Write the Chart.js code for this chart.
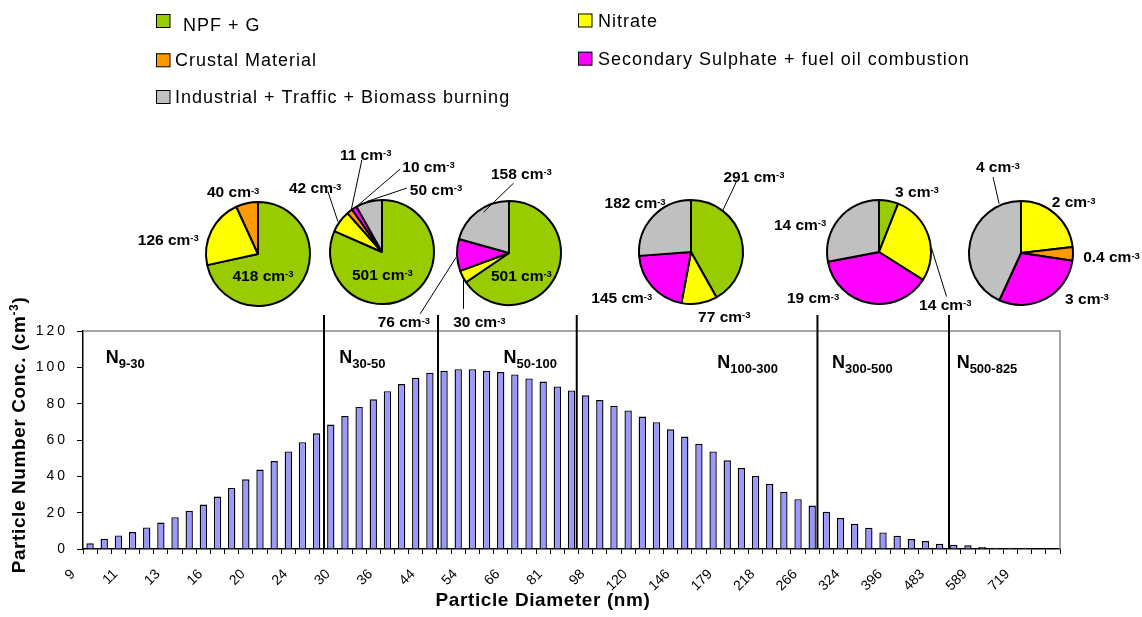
<!DOCTYPE html>
<html>
<head>
<meta charset="utf-8">
<script src="https://cdn.jsdelivr.net/npm/chart.js@4.4.1/dist/chart.umd.min.js"></script>
<style>
  html, body { margin: 0; padding: 0; background: #fff; overflow: hidden; }
  #wrap { position: relative; width: 1142px; height: 617px; }
  #wrap canvas { position: absolute; }
</style>
</head>
<body>
<div id="wrap"><canvas id="bars" width="1142" height="617" style="left:0;top:0"></canvas></div>
<script>
const FONT = "'Liberation Sans', Arial, Helvetica, sans-serif";

// size distribution: 69 bins, every third one carries a tick label
const diameterTicks = [9, 11, 13, 16, 20, 24, 30, 36, 44, 54, 66, 81, 98, 120, 146, 179, 218, 266, 324, 396, 483, 589, 719];
const concValues = [
  3.1, 5.7, 7.5, 9.3, 11.9, 14.6, 17.5, 21.0, 24.5, 28.9,
  33.6, 38.4, 43.7, 48.4, 53.7, 58.8, 63.7, 68.5, 73.2, 78.2,
  82.4, 86.9, 90.8, 94.2, 97.0, 98.1, 99.0, 99.0, 98.1, 97.4,
  96.1, 93.9, 92.2, 89.5, 87.3, 84.6, 82.0, 78.9, 76.3, 72.9,
  69.8, 65.9, 61.9, 57.9, 53.7, 48.8, 44.6, 40.2, 35.8, 31.4,
  27.4, 23.9, 20.5, 17.0, 13.9, 11.7, 9.1, 7.3, 5.5, 4.4,
  2.9, 2.4, 2.0, 1.1, 0.7, 0.7, 0.7, 0.4, 0.4
];
const yTicks = [0, 20, 40, 60, 80, 100, 120];

// size ranges
const rangeNames = ['9-30', '30-50', '50-100', '100-300', '300-500', '500-825'];

// source contributions in each size range (cm-3)
const sourceNames = ['NPF + G', 'Nitrate', 'Crustal Material', 'Secondary Sulphate + fuel oil combustion', 'Industrial + Traffic + Biomass burning'];
const npfG       = [418, 501, 501, 291, 3, 0];
const nitrate    = [126, 42, 30, 77, 14, 2.2];
const crustal    = [40, 11, 0, 0, 0, 0.4];
const sulphate   = [0, 10, 76, 145, 19, 2.8];
const industrial = [0, 50, 158, 182, 14, 4.1];
const sourceColors = ['#99CC00', '#FFFF00', '#FF9900', '#FF00FF', '#C0C0C0'];

// ---- layout ----
const rangeEdges = [16.52, 24.57, 34.37, 51.37, 60.66];     // separators, in category units
const rangeLabelPos = [[1.1, 102.4], [17.6, 102.6], [29.2, 102.4], [44.3, 99.6], [52.4, 99.6], [61.2, 99.6]];
const pieCenters = [[257.5, 253.5], [381.8, 252.2], [508.8, 252.5], [691.2, 252.2], [879.2, 252.2], [1021.2, 252.5]];
// per pie, per non-zero slice: [dx, dy, leader]
const pieLabelPos = [
  [[5, 26.5], [-89.7, -9.5], [-24.8, -56.8]],
  [[0.4, 27.8], [-66.8, -58.9, [-54.1, -60.5, -44.1, -30.5]], [-16.3, -92.2, [-20.1, -92.2, -31.1, -40.5]],
   [46.5, -80.5, [18.2, -82.9, -23.5, -47.2]], [54, -57.2, [24.9, -63.9, -15.1, -50.5]]],
  [[12.4, 27.5], [-29.6, 74.2, [-45.5, 55.8, -45.5, 25.8]], [-105.1, 74.2, [-88.8, 60.8, -52.8, 4.2]],
   [12.4, -74.2, [4.5, -69.8, -25.5, -40.8]]],
  [[63, -70.5, [45.5, -70.5, 32.1, -42.2]], [33.3, 69.5], [-69.2, 51.1], [-55.9, -43.9]],
  [[38, -55.5], [66.3, 57.8, [67.5, 44.5, 52.5, -3.9]], [-65.9, 51.1], [-78.9, -22.2]],
  [[52.6, -45.8], [90.5, 9.2], [66, 50.8], [-23.2, -80.8, [-27.9, -75.8, -21.9, -49.2]]]
];
const legendBoxes = [[156, 14], [578, 13.5], [156, 53.3], [578, 51.7], [156, 90]];
const legendText = [[183, 30.7], [598, 26.7], [175, 65.5], [598, 65], [175, 103.3]];

const categories = concValues.map((v, i) => (i % 3 === 0 ? String(diameterTicks[i / 3]) : ''));

// draws a run of text pieces (for sub/superscripts)
function drawRich(ctx, x, y, segs, align, spacing) {
  ctx.letterSpacing = (spacing || 0) + 'px';
  let total = 0;
  segs.forEach(s => { ctx.font = s.f + ' ' + FONT; s.w = ctx.measureText(s.t).width; total += s.w; });
  let cx = align === 'center' ? x - total / 2 : x;
  ctx.textAlign = 'left';
  ctx.textBaseline = 'alphabetic';
  segs.forEach(s => {
    ctx.font = s.f + ' ' + FONT;
    ctx.fillText(s.t, cx, y + (s.dy || 0));
    cx += s.w;
  });
  ctx.letterSpacing = '0px';
}

function fmtValue(v) {
  return v < 1 ? v.toFixed(1) : String(Math.round(v));
}

const overlay = {
  id: 'overlay',
  afterDraw(chart) {
    const ctx = chart.ctx;
    const { left, right, top, bottom } = chart.chartArea;
    const xs = chart.scales.x, ys = chart.scales.y;
    ctx.save();
    ctx.fillStyle = '#000';

    // plot area frame (top and right)
    ctx.strokeStyle = '#888';
    ctx.lineWidth = 1.5;
    ctx.beginPath();
    ctx.moveTo(left, top);
    ctx.lineTo(right, top);
    ctx.lineTo(right, bottom);
    ctx.stroke();

    // y tick labels
    ctx.font = '14px ' + FONT;
    ctx.letterSpacing = '3px';
    ctx.textAlign = 'right';
    ctx.textBaseline = 'middle';
    yTicks.forEach(v => ctx.fillText(String(v), left - 15, ys.getPixelForValue(v)));
    ctx.letterSpacing = '0px';

    // range separators
    ctx.strokeStyle = '#000';
    ctx.lineWidth = 2;
    rangeEdges.forEach(e => {
      const px = xs.getPixelForValue(e);
      ctx.beginPath();
      ctx.moveTo(px, top - 16);
      ctx.lineTo(px, bottom);
      ctx.stroke();
    });

    // range names
    rangeNames.forEach((r, i) => {
      const p = rangeLabelPos[i];
      drawRich(ctx, xs.getPixelForValue(p[0]), ys.getPixelForValue(p[1]),
        [{ t: 'N', f: 'bold 18px' }, { t: r, f: 'bold 13px', dy: 5 }], 'left');
    });

    // axis titles
    drawRich(ctx, 543, 606, [{ t: 'Particle Diameter (nm)', f: 'bold 19px' }], 'center', 0.6);
    ctx.save();
    ctx.translate(25, 435);
    ctx.rotate(-Math.PI / 2);
    drawRich(ctx, 0, 0, [
      { t: 'Particle Number Conc. (cm', f: 'bold 19px' },
      { t: '-3', f: 'bold 12px', dy: -7 },
      { t: ')', f: 'bold 19px' }
    ], 'center', 0.6);
    ctx.restore();

    // legend
    sourceNames.forEach((name, i) => {
      const b = legendBoxes[i], t = legendText[i];
      ctx.fillStyle = sourceColors[i];
      ctx.fillRect(b[0], b[1], 14, 13.5);
      ctx.strokeStyle = '#000';
      ctx.lineWidth = 1;
      ctx.strokeRect(b[0] + 0.5, b[1] + 0.5, 13.5, 13);
      ctx.fillStyle = '#000';
      drawRich(ctx, t[0], t[1], [{ t: name, f: '18px' }], 'left', 1);
    });
    ctx.restore();
  }
};

new Chart(document.getElementById('bars'), {
  type: 'bar',
  data: {
    labels: categories,
    datasets: [{
      data: concValues,
      backgroundColor: '#9999FF',
      borderColor: '#000',
      borderWidth: 1.4,
      barPercentage: 0.52,
      categoryPercentage: 1
    }]
  },
  options: {
    responsive: false,
    animation: false,
    events: [],
    layout: { padding: { left: 0, right: 82, top: 331, bottom: 0 } },
    plugins: { legend: { display: false }, tooltip: { enabled: false } },
    scales: {
      x: {
        grid: { offset: true, drawOnChartArea: false, tickLength: 5, color: '#000' },
        border: { color: '#000', width: 1.5 },
        ticks: {
          autoSkip: false, maxRotation: 45, minRotation: 45, padding: 12, labelOffset: -17,
          color: '#000', font: { family: FONT, size: 14 }
        },
        afterFit: s => { s.height = 68; }
      },
      y: {
        min: 0, max: 120,
        ticks: { stepSize: 20, display: false },
        grid: { drawOnChartArea: false, tickLength: 6, color: '#000' },
        border: { color: '#000', width: 1.5 },
        afterFit: s => { s.width = 83; }
      }
    }
  },
  plugins: [overlay]
});

// ---- pies ----
const pieLabels = {
  id: 'pieLabels',
  afterDraw(chart, args, opts) {
    const ctx = chart.ctx;
    const arc = chart.getDatasetMeta(0).data[0];
    const cx = arc.x, cy = arc.y;
    const vals = chart.data.datasets[0].data;
    ctx.save();
    ctx.fillStyle = '#000';
    ctx.strokeStyle = '#000';
    ctx.lineWidth = 1;
    opts.pos.forEach((p, i) => {
      if (p[2]) {
        ctx.beginPath();
        ctx.moveTo(cx + p[2][0], cy + p[2][1]);
        ctx.lineTo(cx + p[2][2], cy + p[2][3]);
        ctx.stroke();
      }
      drawRich(ctx, cx + p[0], cy + p[1], [
        { t: fmtValue(vals[i]) + ' cm', f: 'bold 15.5px' },
        { t: '-3', f: 'bold 9.5px', dy: -3.5 }
      ], 'center');
    });
    ctx.restore();
  }
};

const PW = 290, PH = 230;
const sourceSeries = [npfG, nitrate, crustal, sulphate, industrial];
rangeNames.forEach((r, k) => {
  const vals = [], cols = [], names = [];
  sourceSeries.forEach((s, j) => {
    if (s[k] > 0) { vals.push(s[k]); cols.push(sourceColors[j]); names.push(sourceNames[j]); }
  });
  const cv = document.createElement('canvas');
  cv.width = PW; cv.height = PH;
  cv.style.left = (pieCenters[k][0] - PW / 2) + 'px';
  cv.style.top = (pieCenters[k][1] - PH / 2) + 'px';
  document.getElementById('wrap').appendChild(cv);
  new Chart(cv, {
    type: 'pie',
    data: { labels: names, datasets: [{ data: vals, backgroundColor: cols, borderColor: '#000', borderWidth: 2 }] },
    options: {
      responsive: false,
      animation: false,
      events: [],
      radius: 52,
      plugins: { legend: { display: false }, tooltip: { enabled: false }, pieLabels: { pos: pieLabelPos[k] } }
    },
    plugins: [pieLabels]
  });
});
</script>
</body>
</html>
